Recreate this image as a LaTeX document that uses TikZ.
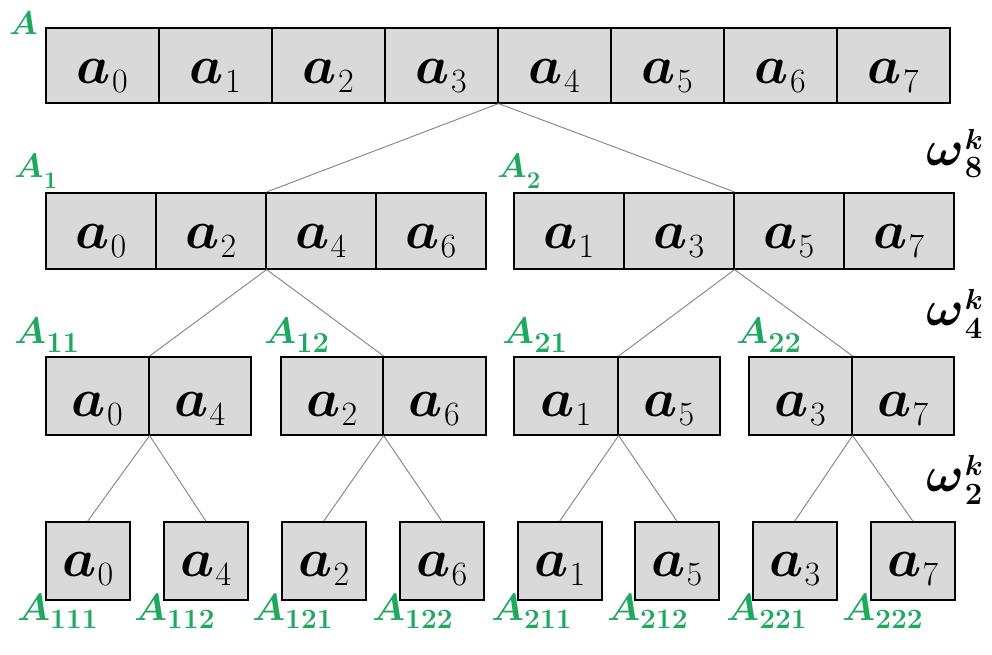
\RequirePackage{fix-cm}
\documentclass[tikz,border=0pt]{standalone}
\usepackage{amsmath}
\usepackage{bm}
\definecolor{lblgreen}{RGB}{30,168,96}
\definecolor{cellgray}{RGB}{217,217,217}
\definecolor{conngray}{RGB}{130,130,130}
\tikzset{
  cellbox/.style={draw=black, line width=1.6pt, fill=cellgray, anchor=north west, inner sep=0pt,
    font=\fontsize{54}{54}\selectfont, text depth=0pt},
  conn/.style={draw=conngray, line width=0.9pt},
  lbl/.style={text=lblgreen, inner sep=0pt, anchor=base west},
  wlbl/.style={inner sep=0pt, anchor=base west}
}
% cell text: bold italic a with a regular subscript digit
\newcommand{\av}[1]{$\bm{a}$\kern1pt\raisebox{-9pt}{\fontsize{34}{34}\selectfont #1}}
% green label: A size, subscript size, drop, subscript text
\newcommand{\glab}[4]{{\fontsize{#1}{#1}\selectfont$\bm{A}$}\raisebox{-#3pt}{\fontsize{#2}{#2}\selectfont\bfseries #4}}
% omega label
\newcommand{\wk}[1]{{\fontsize{50}{50}\selectfont$\bm{\omega}$}\kern1pt\makebox[0pt][l]{\raisebox{16pt}{\fontsize{29}{29}\selectfont$\bm{k}$}}\raisebox{-13pt}{\fontsize{31}{31}\selectfont\bfseries #1}}
\begin{document}
\begin{tikzpicture}[x=1pt,y=-1pt]
\useasboundingbox (0,0) rectangle (992,655);
% row 0
\foreach \v [count=\i from 0] in {0,...,7}
  \node[cellbox, text height=37pt, minimum width=113pt, minimum height=75pt] (t\i) at ({45+113*\i},27) {\av{\v}};
% row 1
\foreach \v [count=\i from 0] in {0,2,4,6}
  \node[cellbox, text height=35pt, minimum width=110pt, minimum height=76pt] (l\i) at ({45+110*\i},192) {\av{\v}};
\foreach \v [count=\i from 0] in {1,3,5,7}
  \node[cellbox, text height=35pt, minimum width=110pt, minimum height=76pt] (r\i) at ({513+110*\i},192) {\av{\v}};
% row 2
\tikzset{rowtwo/.style={cellbox, text height=42pt, minimum height=78pt}}
\node[rowtwo, minimum width=103pt] (b11a) at (45,356) {\av{0}};
\node[rowtwo, minimum width=102pt] (b11b) at (148,356) {\av{4}};
\node[rowtwo, minimum width=102pt] (b12a) at (280,356) {\av{2}};
\node[rowtwo, minimum width=103pt] (b12b) at (382,356) {\av{6}};
\node[rowtwo, minimum width=104pt] (b21a) at (513,356) {\av{1}};
\node[rowtwo, minimum width=102pt] (b21b) at (617,356) {\av{5}};
\node[rowtwo, minimum width=103pt] (b22a) at (748,356) {\av{3}};
\node[rowtwo, minimum width=102pt] (b22b) at (851,356) {\av{7}};
% row 3
\foreach \n/\x/\v in {111/45/0,112/163/4,121/281/2,122/399/6,211/517/1,212/634/5,221/752/3,222/870/7}
  \node[cellbox, text height=32pt, minimum width=84pt, minimum height=78pt] (c\n) at (\x,521) {\av{\v}};
% connectors
\draw[conn] (t3.south east) -- (l1.north east);
\draw[conn] (t3.south east) -- (r1.north east);
\draw[conn] (l1.south east) -- (b11a.north east);
\draw[conn] (l1.south east) -- (b12a.north east);
\draw[conn] (r1.south east) -- (b21a.north east);
\draw[conn] (r1.south east) -- (b22a.north east);
\draw[conn] (b11a.south east) -- (c111.north);
\draw[conn] (b11a.south east) -- (c112.north);
\draw[conn] (b12a.south east) -- (c121.north);
\draw[conn] (b12a.south east) -- (c122.north);
\draw[conn] (b21a.south east) -- (c211.north);
\draw[conn] (b21a.south east) -- (c212.north);
\draw[conn] (b22a.south east) -- (c221.north);
\draw[conn] (b22a.south east) -- (c222.north);
% green labels
\node[lbl] (LA) at (9,35) {\glab{33}{24}{10}{}};
\node[lbl] (LA1) at (14,178) {\glab{34}{24}{10}{1}};
\node[lbl] (LA2) at (497,178) {\glab{34}{24}{10}{2}};
\node[lbl] (LA11) at (14,343) {\glab{37}{29}{9}{11}};
\node[lbl] (LA12) at (264,343) {\glab{37}{29}{9}{12}};
\node[lbl] (LA21) at (502,343) {\glab{37}{29}{9}{21}};
\node[lbl] (LA22) at (736,343) {\glab{37}{29}{9}{22}};
\foreach \n/\x in {111/17,112/134,121/252,122/372,211/491,212/607,221/726,222/842}
  \node[lbl] (LA\n) at (\x,620) {\glab{38}{28}{8}{\n}};
% omega labels
\node[wlbl] (w8) at (926,165) {\wk{8}};
\node[wlbl] (w4) at (926,325) {\wk{4}};
\node[wlbl] (w2) at (926,491) {\wk{2}};
\end{tikzpicture}
\end{document}
